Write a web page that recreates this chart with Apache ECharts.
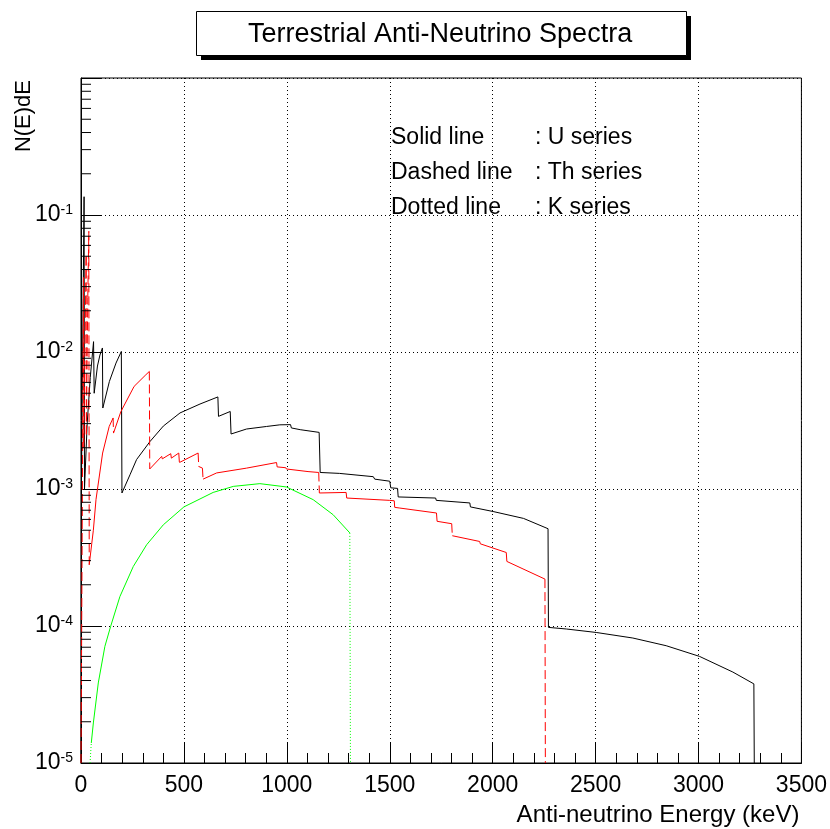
<!DOCTYPE html>
<html><head><meta charset="utf-8">
<script src="https://cdn.jsdelivr.net/npm/echarts@6/dist/echarts.min.js"></script>
<style>html,body{margin:0;padding:0;background:#fff}#c{width:830px;height:829px}</style>
</head><body><div id="c"></div>
<script>
const FONT = '"Liberation Sans", Arial, Helvetica, sans-serif';

// U series (solid, black): [energy keV, N(E)dE]
const uSeries = [
  [0, 1e-5], [2, 1.0e-3], [15, 0.136], [17, 1.0e-3], [30, 3.0e-3], [45, 6.5e-3],
  [61, 0.0119], [64, 5.0e-3], [80, 7.9e-3], [92, 9.5e-3], [104, 0.0107], [106, 3.9e-3],
  [138, 6.1e-3], [170, 8.3e-3], [196, 0.0101], [199, 9.35e-4], [238, 1.27e-3],
  [270, 1.64e-3], [335, 2.22e-3], [400, 2.88e-3], [481, 3.59e-3], [578, 4.17e-3],
  [665, 4.70e-3], [668, 3.39e-3], [725, 3.68e-3], [729, 2.52e-3], [804, 2.74e-3],
  [901, 2.86e-3], [966, 2.94e-3], [1018, 2.95e-3], [1022, 2.79e-3], [1065, 2.71e-3],
  [1068, 2.67e-3], [1157, 2.59e-3], [1162, 1.32e-3], [1255, 1.30e-3], [1262, 1.27e-3],
  [1420, 1.23e-3], [1427, 1.18e-3], [1500, 1.14e-3], [1505, 1.02e-3], [1538, 1.01e-3],
  [1541, 8.75e-4], [1723, 8.59e-4], [1726, 8.26e-4], [1889, 7.91e-4], [1892, 7.40e-4],
  [2002, 6.85e-4], [2150, 6.10e-4], [2269, 5.13e-4], [2271, 9.77e-5], [2358, 9.51e-5],
  [2503, 8.97e-5], [2681, 8.17e-5], [2843, 7.18e-5], [3005, 6.0e-5], [3167, 4.61e-5],
  [3269, 3.78e-5], [3271, 1e-5]
];

// Th series (dashed, red)
const thSeries = [
  [0, 1e-5], [12, 0.035], [13, 2.0e-3], [25, 0.05], [26, 2.5e-3], [33, 0.025], [38, 0.076],
  [40, 2.8e-4], [60, 5.0e-4], [73, 8.4e-4], [105, 1.83e-3], [137, 2.86e-3], [156, 3.30e-3],
  [158, 2.56e-3], [194, 3.68e-3], [258, 5.61e-3], [315, 6.82e-3], [332, 7.21e-3],
  [334, 1.40e-3], [392, 1.73e-3], [395, 1.66e-3], [436, 1.81e-3], [439, 1.68e-3],
  [475, 1.83e-3], [478, 1.56e-3], [569, 1.83e-3], [572, 1.46e-3], [590, 1.42e-3],
  [593, 1.18e-3], [659, 1.31e-3], [804, 1.42e-3], [950, 1.56e-3], [953, 1.45e-3],
  [995, 1.43e-3], [998, 1.40e-3], [1103, 1.34e-3], [1155, 1.32e-3], [1158, 9.35e-4],
  [1288, 9.44e-4], [1291, 8.59e-4], [1500, 8.26e-4], [1522, 8.2e-4], [1524, 7.35e-4],
  [1549, 7.26e-4], [1727, 6.68e-4], [1730, 5.81e-4], [1801, 5.58e-4], [1804, 4.56e-4],
  [1937, 4.14e-4], [1940, 3.98e-4], [2066, 3.44e-4], [2069, 2.96e-4], [2254, 2.20e-4],
  [2256, 1e-5]
];

// K series (dotted, green)
const kSeries = [
  [44, 1e-5], [50, 1.40e-5], [60, 1.96e-5], [84, 3.84e-5], [116, 7.10e-5], [144, 9.93e-5],
  [189, 1.64e-4], [254, 2.72e-4], [319, 3.92e-4], [400, 5.48e-4], [500, 7.40e-4],
  [642, 9.44e-4], [740, 1.045e-3], [869, 1.094e-3], [998, 1.035e-3], [1128, 8.36e-4],
  [1225, 6.49e-4], [1306, 4.78e-4], [1309, 1e-5]
];

const legendRows = [
  ['Solid line', ': U series'],
  ['Dashed line', ': Th series'],
  ['Dotted line', ': K series']
];

// log-axis minor ticks (2..9 x 10^n)
const yMinorTicks = [];
for (let e = -5; e < 0; e++) for (let k = 2; k <= 9; k++) yMinorTicks.push([0, +(k * Math.pow(10, e)).toPrecision(3)]);

function segmentRenderer(data, color, dash) {
  return function (params, api) {
    const i = params.dataIndex;
    if (i === 0) return null;
    const a = data[i - 1], b = data[i];
    const p0 = api.coord(a), p1 = api.coord(b);
    const dE = Math.max(Math.abs(b[0] - a[0]), 1e-6);
    const slope = Math.abs(p1[1] - p0[1]) / dE;
    const useDash = dash && slope > 2.8;
    return {
      type: 'line',
      shape: { x1: p0[0], y1: p0[1], x2: p1[0], y2: p1[1] },
      style: { stroke: color, lineWidth: 1, lineDash: useDash ? dash : null, fill: null }
    };
  };
}

const chart = echarts.init(document.getElementById('c'), null, { renderer: 'canvas' });
const legendGraphics = [];
legendRows.forEach((r, i) => {
  const y = 138 + i * 34.6;
  legendGraphics.push({ type: 'text', x: 391, y: y, z: 10,
    style: { text: r[0], fontSize: 23, fontFamily: FONT, fill: '#000', align: 'left', verticalAlign: 'middle', textAlign: 'left', textVerticalAlign: 'middle' } });
  legendGraphics.push({ type: 'text', x: 535, y: y, z: 10,
    style: { text: r[1], fontSize: 23, fontFamily: FONT, fill: '#000', align: 'left', verticalAlign: 'middle', textAlign: 'left', textVerticalAlign: 'middle' } });
});

chart.setOption({
  animation: false,
  backgroundColor: '#fff',
  title: {
    text: 'Terrestrial Anti-Neutrino Spectra',
    left: 248, top: 21, padding: 0, z: 10,
    textStyle: { fontSize: 27, fontWeight: 'normal', fontFamily: FONT, color: '#000', lineHeight: 27 }
  },
  graphic: [
    { type: 'rect', z: 1, shape: { x: 201, y: 16, width: 490, height: 44 }, style: { fill: '#000' } },
    { type: 'rect', z: 2, shape: { x: 196.5, y: 11.5, width: 490, height: 44 }, style: { fill: '#fff', stroke: '#000', lineWidth: 1 } },
    { type: 'text', x: 24, y: 80, rotation: Math.PI / 2, z: 10,
      style: { text: 'N(E)dE', fontSize: 22, fontFamily: FONT, fill: '#000', align: 'right', verticalAlign: 'middle', textAlign: 'right', textVerticalAlign: 'middle' } }
  ].concat(legendGraphics),
  grid: { left: 81, right: 28, top: 78, bottom: 66, show: true, borderColor: '#000', borderWidth: 1, backgroundColor: 'transparent' },
  xAxis: {
    type: 'value', min: 0, max: 3500, interval: 500,
    name: 'Anti-neutrino Energy (keV)', nameLocation: 'end', nameGap: -2,
    nameTextStyle: { fontSize: 24, fontFamily: FONT, color: '#000', align: 'right', verticalAlign: 'top', padding: [40, 0, 0, 0] },
    axisLine: { lineStyle: { color: '#000', width: 1 } },
    axisTick: { inside: true, length: 20, lineStyle: { color: '#000' } },
    minorTick: { show: true, splitNumber: 5, length: 10, lineStyle: { color: '#000' } },
    axisLabel: { color: '#000', fontSize: 23, fontFamily: FONT, margin: 11, formatter: function (v) { return String(v); } },
    splitLine: { show: true, lineStyle: { color: '#000', width: 1, type: [1, 3] } }
  },
  yAxis: {
    type: 'log', logBase: 10, min: 1e-5, max: 1, splitNumber: 5,
    axisLine: { lineStyle: { color: '#000', width: 1 } },
    axisTick: { inside: true, length: 20, lineStyle: { color: '#000' } },
    axisLabel: {
      margin: 8, color: '#000',
      formatter: function (v) {
        const e = Math.round(Math.log10(v));
        if (e === 0) return '';
        return '{b|10}{s|' + e + '}';
      },
      rich: {
        b: { fontSize: 23, fontFamily: FONT, color: '#000' },
        s: { fontSize: 14, fontFamily: FONT, color: '#000', verticalAlign: 'top' }
      }
    },
    splitLine: { show: true, lineStyle: { color: '#000', width: 1, type: [1, 3] } }
  },
  series: [
    {
      name: 'U series', type: 'line', data: uSeries, showSymbol: false, symbol: 'none',
      lineStyle: { color: '#000', width: 1 }, itemStyle: { color: '#000' }, clip: true, z: 3
    },
    {
      name: 'Th series', type: 'custom', coordinateSystem: 'cartesian2d', data: thSeries,
      encode: { x: 0, y: 1 }, renderItem: segmentRenderer(thSeries, '#ff0000', [9, 4]), z: 4, silent: true
    },
    {
      name: 'K series', type: 'custom', coordinateSystem: 'cartesian2d', data: kSeries,
      encode: { x: 0, y: 1 }, renderItem: segmentRenderer(kSeries, '#00ff00', [1, 2]), z: 4, silent: true
    },
    {
      name: 'minor ticks', type: 'custom', coordinateSystem: 'cartesian2d', data: yMinorTicks,
      encode: { x: 0, y: 1 }, silent: true, z: 5,
      renderItem: function (params, api) {
        const p = api.coord([api.value(0), api.value(1)]);
        return { type: 'line', shape: { x1: p[0], y1: p[1], x2: p[0] + 10, y2: p[1] }, style: { stroke: '#000', lineWidth: 1 } };
      }
    }
  ]
});
</script></body></html>
